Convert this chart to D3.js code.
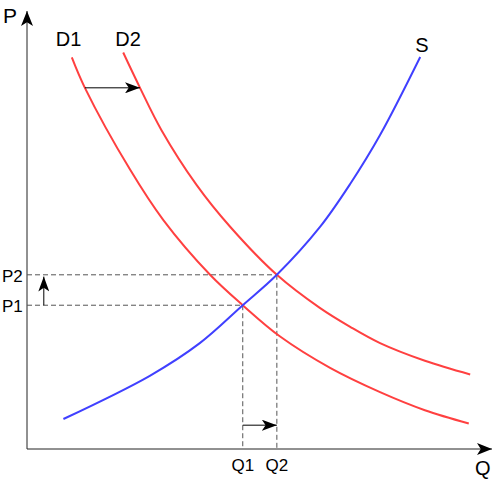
<!DOCTYPE html>
<html>
<head>
<meta charset="utf-8">
<script src="https://cdn.jsdelivr.net/npm/d3@7"></script>
<style>
  body { margin: 0; background: #fff; }
  svg text { font-family: "Liberation Sans", Arial, sans-serif; fill: #000; }
</style>
</head>
<body>
<svg id="sd_svg" width="494" height="486"></svg>
<script>
// points, [quantity, price] on a 0-100 scale
var d1Points = [[9.6, 88.8], [12.4, 81.9], [22.1, 63.3], [29.2, 51.9], [39.2, 39.5],
                [46.2, 32.6], [54.2, 25.5], [64.9, 18.4], [75.6, 12.9], [85.2, 8.8], [94.6, 5.8]];
var d2Points = [[20.6, 89.9], [24.2, 81.9], [28.8, 72.3], [36.3, 59.9], [43.5, 50.4],
                [53.5, 39.5], [62.7, 32.0], [69.2, 27.7], [75.6, 24.0], [85.2, 20.0], [94.9, 16.9]];
var sPoints = [[7.8, 6.8], [26.3, 16.6], [37.0, 24.0], [46.2, 32.6], [53.5, 39.5],
               [62.7, 50.3], [69.2, 60.1], [75.6, 71.2], [84.2, 88.9]];
var curveNames = ["D1", "D2", "S"];
var equilibria = [[46.2, 32.6], [53.5, 39.5]];
var priceLabels = ["P1", "P2"];
var quantityLabels = ["Q1", "Q2"];
var axisLabels = ["P", "Q"];
var demandShift = [[12.4, 81.9], [24.2, 81.9]];
var priceShift = [[3.6, 32.6], [3.6, 39.1]];
var quantityShift = [[46.2, 5.4], [53.5, 5.4]];

(function () {
  var svg = d3.select("svg#sd_svg");
  var x = d3.scaleLinear().domain([0, 100]).range([27, 494]),
      y = d3.scaleLinear().domain([0, 100]).range([449, 8]);

  var defs = svg.append("defs");
  function addHead(id, len, wid) {
    defs.append("marker").attr("id", id)
        .attr("markerUnits", "userSpaceOnUse")
        .attr("markerWidth", len).attr("markerHeight", wid)
        .attr("refX", len).attr("refY", wid / 2)
        .attr("orient", "auto")
      .append("path")
        .attr("d", "M0,0 L" + len + "," + (wid / 2) + " L0," + wid + " L" + (len * 0.25) + "," + (wid / 2) + " Z")
        .attr("fill", "#000");
  }
  addHead("head", 15, 11);
  addHead("axhead", 15, 12);

  // axes
  var gaxis = svg.append("g");
  gaxis.append("line").attr("x1", x(0)).attr("y1", y(0)).attr("x2", x(0)).attr("y2", y(100) + 3)
       .attr("stroke", "#222").attr("stroke-width", 1).attr("marker-end", "url(#axhead)");
  gaxis.append("line").attr("x1", x(0)).attr("y1", y(0)).attr("x2", x(100) - 2).attr("y2", y(0))
       .attr("stroke", "#222").attr("stroke-width", 1).attr("marker-end", "url(#axhead)");
  gaxis.append("text").attr("x", x(0) - 24).attr("y", y(100) + 15)
       .style("font-size", "21px").text(axisLabels[0]);
  gaxis.append("text").attr("x", x(100) - 19).attr("y", y(0) + 26)
       .style("font-size", "20px").text(axisLabels[1]);

  // dashed guides to the equilibria
  var gguide = svg.append("g").attr("stroke", "#555").attr("stroke-width", 1)
                  .attr("stroke-dasharray", "5,3");
  equilibria.forEach(function (e, i) {
    gguide.append("line").attr("x1", x(0)).attr("x2", x(e[0]))
          .attr("y1", y(e[1])).attr("y2", y(e[1]));
    gguide.append("line").attr("x1", x(e[0])).attr("x2", x(e[0]))
          .attr("y1", y(e[1])).attr("y2", y(0));
    svg.append("text").attr("x", x(0) - 25).attr("y", y(e[1]) + 7)
       .style("font-size", "17px").text(priceLabels[i]);
    svg.append("text").attr("x", x(e[0])).attr("y", y(0) + 22)
       .attr("text-anchor", "middle")
       .style("font-size", "17px").text(quantityLabels[i]);
  });

  // curves
  var line = d3.line().x(d => x(d[0])).y(d => y(d[1])).curve(d3.curveCatmullRom.alpha(0.5));
  var curves = [d1Points, d2Points, sPoints],
      colors = ["#ff4040", "#ff4040", "#4040ff"];
  curves.forEach(function (pts, i) {
    svg.append("path").datum(pts).attr("d", line)
       .attr("fill", "none").attr("stroke", colors[i]).attr("stroke-width", 2);
  });
  svg.append("text").attr("x", x(d1Points[0][0]) - 16).attr("y", y(d1Points[0][1]) - 11)
     .style("font-size", "20px").text(curveNames[0]);
  svg.append("text").attr("x", x(d2Points[0][0]) - 8).attr("y", y(d2Points[0][1]) - 7)
     .style("font-size", "20px").text(curveNames[1]);
  svg.append("text").attr("x", x(sPoints[sPoints.length - 1][0]) - 5).attr("y", y(sPoints[sPoints.length - 1][1]) - 5)
     .style("font-size", "20px").text(curveNames[2]);

  // shift arrows
  [demandShift, priceShift, quantityShift].forEach(function (a) {
    svg.append("line").attr("x1", x(a[0][0])).attr("y1", y(a[0][1]))
       .attr("x2", x(a[1][0])).attr("y2", y(a[1][1]))
       .attr("stroke", "#000").attr("stroke-width", 1).attr("marker-end", "url(#head)");
  });
})();
</script>
</body>
</html>
